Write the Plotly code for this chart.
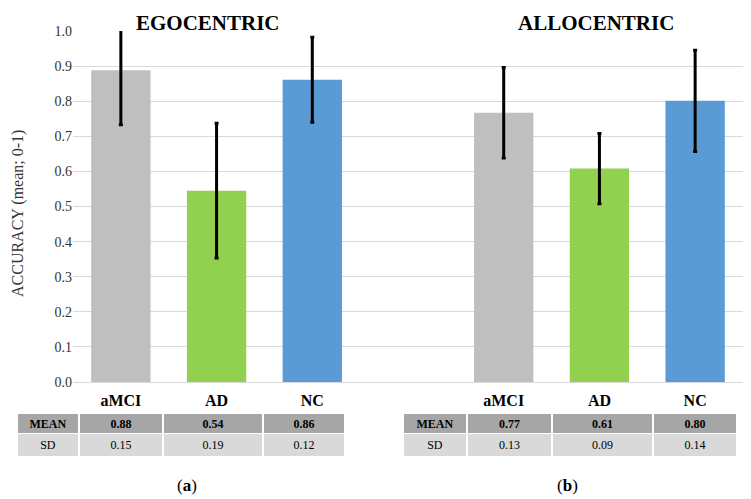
import plotly.graph_objects as go

# ---- data ----
groups = ["aMCI", "AD", "NC"]
ego_mean = [0.888, 0.545, 0.861]
ego_err = [0.155, 0.192, 0.121]
allo_mean = [0.767, 0.608, 0.801]
allo_err = [0.129, 0.100, 0.144]
ego_table_mean = ["0.88", "0.54", "0.86"]
ego_table_sd = ["0.15", "0.19", "0.12"]
allo_table_mean = ["0.77", "0.61", "0.80"]
allo_table_sd = ["0.13", "0.09", "0.14"]
row_labels = ["MEAN", "SD"]
bar_colors = ["#bfbfbf", "#92d050", "#5b9bd5"]
ego_pos = [0, 1, 2]
allo_pos = [4, 5, 6]
y_ticks = [0.0, 0.1, 0.2, 0.3, 0.4, 0.5, 0.6, 0.7, 0.8, 0.9, 1.0]

SERIF = "Liberation Serif"

# page body has an 8px margin; work in reference pixel coords and shift
OX, OY = 8, 8
W, H = 751 - OX, 499 - OY
ML, MR, MT, MB = 2, 8, 23, 32
PW = W - ML - MR
PH = H - MT - MB


def px_x(x):
    return (x - OX - ML) / PW


def px_y(y):
    return (H - MB - (y - OY)) / PH


fig = go.Figure()

for pos, means, errs in [(ego_pos, ego_mean, ego_err), (allo_pos, allo_mean, allo_err)]:
    fig.add_trace(go.Bar(
        x=pos, y=means, width=0.62,
        marker=dict(color=bar_colors, line=dict(width=0)),
        error_y=dict(type="data", array=errs, visible=True, color="black",
                     thickness=3, width=2),
        showlegend=False, hoverinfo="skip",
    ))

annotations = []

# tables built as annotation cells
def add_table(x0, colw, mvals, svals):
    rows = [(row_labels[0], mvals, "#a6a6a6", True, 414, 433),
            (row_labels[1], svals, "#d9d9d9", False, 434, 456)]
    for label, vals, fill, bold, y0, y1 in rows:
        texts = [label] + list(vals)
        xs = x0
        for t, w in zip(texts, colw):
            annotations.append(dict(
                text=("<b>%s</b>" % t) if bold else t,
                xref="paper", yref="paper",
                x=px_x(xs + w / 2.0), y=px_y((y0 + y1) / 2.0),
                xanchor="center", yanchor="middle",
                width=w - 2, height=(y1 - y0), bgcolor=fill,
                borderpad=0, borderwidth=0, showarrow=False,
                font=dict(family=SERIF, size=12, color="black"),
            ))
            xs += w

add_table(17, [62, 84, 100, 82], ego_table_mean, ego_table_sd)
add_table(403, [64, 85, 101, 84], allo_table_mean, allo_table_sd)

annotations += [
    dict(text="<b>EGOCENTRIC</b>", xref="paper", yref="paper",
         x=px_x(208), y=px_y(23), xanchor="center", yanchor="middle",
         showarrow=False, font=dict(family=SERIF, size=21, color="black")),
    dict(text="<b>ALLOCENTRIC</b>", xref="paper", yref="paper",
         x=px_x(596), y=px_y(23), xanchor="center", yanchor="middle",
         showarrow=False, font=dict(family=SERIF, size=21, color="black")),
    dict(text="ACCURACY (mean; 0-1)", xref="paper", yref="paper",
         x=px_x(18), y=px_y(214), xanchor="center", yanchor="middle",
         textangle=-90, showarrow=False,
         font=dict(family=SERIF, size=16, color="#333333")),
    dict(text="(<b>a</b>)", xref="paper", yref="paper",
         x=px_x(187), y=px_y(485), xanchor="center", yanchor="middle",
         showarrow=False, font=dict(family=SERIF, size=17, color="black")),
    dict(text="(<b>b</b>)", xref="paper", yref="paper",
         x=px_x(567), y=px_y(485), xanchor="center", yanchor="middle",
         showarrow=False, font=dict(family=SERIF, size=17, color="black")),
]

fig.update_layout(
    width=W, height=H,
    margin=dict(l=ML, r=MR, t=MT, b=MB),
    paper_bgcolor="white", plot_bgcolor="white",
    font=dict(family=SERIF),
    xaxis=dict(
        domain=[px_x(73), 1.0],
        range=[-0.5, 6.5],
        tickvals=ego_pos + allo_pos,
        ticktext=["<b>%s</b>" % g for g in groups] * 2,
        tickfont=dict(family=SERIF, size=16, color="black"),
        ticklabelstandoff=7,
        showgrid=False, zeroline=False, showline=False, ticks="",
        fixedrange=True,
    ),
    yaxis=dict(
        domain=[px_y(382), px_y(31)],
        range=[0, 1.0],
        tickvals=y_ticks,
        tickformat=".1f",
        tickfont=dict(family=SERIF, size=14, color="#333333"),
        showgrid=True, gridcolor="#d9d9d9", gridwidth=1,
        zeroline=True, zerolinecolor="#d9d9d9", zerolinewidth=1,
        showline=False, ticks="",
        fixedrange=True,
    ),
    annotations=annotations,
)

fig.write_html("out.html", config=dict(displayModeBar=False))
